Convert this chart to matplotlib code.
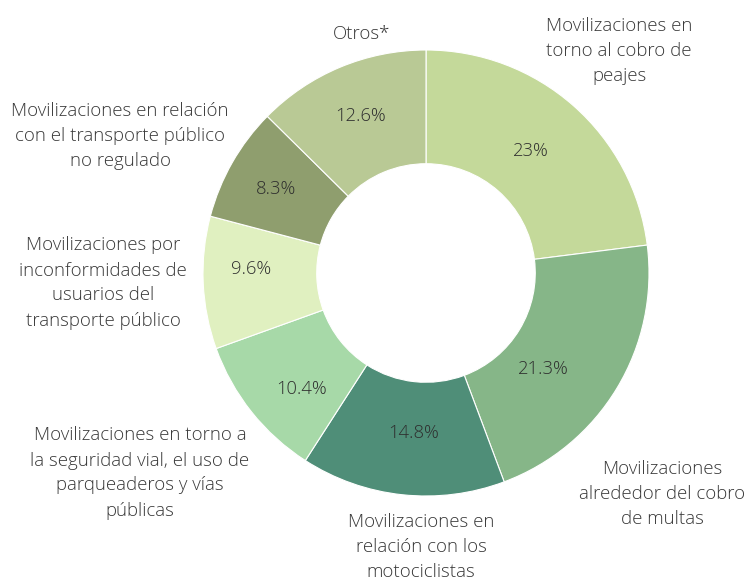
import matplotlib
matplotlib.use("Agg")
import matplotlib.pyplot as plt

# share of mobilisations by cause (%), clockwise from 12 o'clock
categories = [
    "Movilizaciones en\ntorno al cobro de\npeajes",
    "Movilizaciones\nalrededor del cobro\nde multas",
    "Movilizaciones en\nrelación con los\nmotociclistas",
    "Movilizaciones en torno a\nla seguridad vial, el uso de\nparqueaderos y vías\npúblicas",
    "Movilizaciones por\ninconformidades de\nusuarios del\ntransporte público",
    "Movilizaciones en relación\ncon el transporte público\nno regulado",
    "Otros*",
]
values = [23, 21.3, 14.8, 10.4, 9.6, 8.3, 12.6]
colors = ["#c4d99a", "#86b688", "#4f8e78", "#a7d9a8", "#e0f0c0", "#8f9e6e", "#b9c995"]

# where the category and percentage labels sit (pixel coords, origin bottom-left)
label_xy = [(619, 529), (662, 86), (421, 33), (140, 107), (103, 297), (120, 444), (362, 546)]
pct_xy = [(531, 429), (543, 211), (414, 147), (302, 191), (251, 311), (276, 391), (361, 464)]

TXT = "#383838"
plt.rcParams["font.family"] = ["Open Sans", "DejaVu Sans"]

fig = plt.figure(figsize=(7.51, 5.80), dpi=100)
ax = fig.add_axes([0, 0, 1, 1])

wedges, _, pcts = ax.pie(
    values, colors=colors, startangle=90, counterclock=False,
    center=(426, 307), radius=223, frame=True,
    wedgeprops=dict(width=223 * 0.51, edgecolor="white", linewidth=0.8),
    autopct=lambda p: f"{p:.3g}%", pctdistance=0.72,
    textprops=dict(color="#2e2e2e", fontsize=13.2, fontweight="light"),
)
for t, xy in zip(pcts, pct_xy):
    t.set_position(xy)

ax.set_xlim(0, 751)
ax.set_ylim(0, 580)
ax.set_aspect("equal")
ax.axis("off")

for txt, (x, y) in zip(categories, label_xy):
    ax.text(x, y, txt, ha="center", va="center", color=TXT, fontsize=13.4,
            fontweight="light", linespacing=1.5)

fig.savefig("out.png", dpi=100, facecolor="white")
